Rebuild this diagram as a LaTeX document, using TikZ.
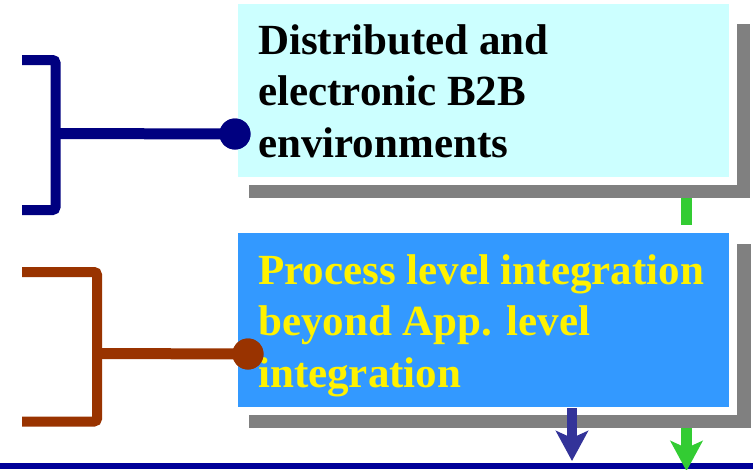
\documentclass[tikz,border=0pt]{standalone}
\usepackage{fontspec}
\setmainfont{Liberation Serif}
\usetikzlibrary{arrows.meta}
\definecolor{skycyan}{HTML}{CCFFFF}
\definecolor{procblue}{HTML}{3399FF}
\definecolor{shadowgray}{HTML}{808080}
\definecolor{navyline}{HTML}{000080}
\definecolor{rust}{HTML}{993300}
\definecolor{arrowblue}{HTML}{333399}
\definecolor{arrowgreen}{HTML}{33CC33}
\definecolor{baseblue}{HTML}{000099}
\tikzset{
  panel/.style={rectangle, inner sep=0pt, outer sep=0pt, draw=white, line width=8pt},
  shadowbox/.style={rectangle, inner sep=0pt, outer sep=0pt, fill=shadowgray},
  paneltext/.style={anchor=base west, inner sep=0pt, align=left,
    font=\fontsize{43}{51.5}\selectfont\bfseries},
  bracketline/.style={line width=10pt, rounded corners=3pt},
  pin/.style={circle, inner sep=0pt, minimum size=31pt},
  flowarrow/.style={line width=#1, -{Stealth[width=32pt, length=30pt, inset=7pt]}},
}
\begin{document}
\begin{tikzpicture}[x=1pt, y=-1pt]
  \useasboundingbox (0,0) rectangle (753,469);

  % drop shadows behind the two panels
  \node[shadowbox, minimum width=501pt, minimum height=174pt] (topshadow) at (499.5,111) {};
  \node[shadowbox, minimum width=502pt, minimum height=184pt] (botshadow) at (500,336) {};

  % green link between the panels
  \coordinate (glinktop) at (686.5,198);
  \coordinate (glinkbot) at (686.5,230);
  \draw[arrowgreen, line width=11pt] (glinktop) -- (glinkbot);

  % panels
  \node[panel, fill=skycyan, minimum width=499pt, minimum height=181pt] (toppanel) at (483.5,90.5) {};
  \node[panel, fill=procblue, minimum width=499pt, minimum height=182pt] (botpanel) at (483.5,320) {};

  % panel captions (anchored at the baseline of the last line)
  \node[paneltext, text=black] (toptext) at (258,157)
    {Distributed and\\electronic B2B\\environments};
  \node[paneltext, text=yellow] (bottext) at (258,387)
    {Process level integration\\beyond App. level\\integration};

  % left brackets with their pins
  \node[pin, fill=navyline] (toppin) at (235,134) {};
  \coordinate (tbA) at (22,60);
  \coordinate (tbB) at (55.5,60);
  \coordinate (tbC) at (55.5,210);
  \coordinate (tbD) at (22,210);
  \coordinate (tbM) at (55.5,133.5);
  \draw[bracketline, navyline] (tbA) -- (tbB) -- (tbC) -- (tbD);
  \draw[navyline, line width=11pt] (tbM) -- (toppin.center);
  \node[pin, fill=navyline] at (toppin) {};

  \node[pin, fill=rust] (botpin) at (248,354) {};
  \coordinate (bbA) at (22,272);
  \coordinate (bbB) at (97,272);
  \coordinate (bbC) at (97,421.5);
  \coordinate (bbD) at (22,421.5);
  \coordinate (bbM) at (97,353.5);
  \draw[bracketline, rust] (bbA) -- (bbB) -- (bbC) -- (bbD);
  \draw[rust, line width=11pt] (bbM) -- (botpin.center);
  \node[pin, fill=rust] at (botpin) {};

  % base line
  \coordinate (baseL) at (0,466);
  \coordinate (baseR) at (753,466);
  \draw[baseblue, line width=6pt] (baseL) -- (baseR);

  % outgoing arrows
  \coordinate (bluestart) at (572,408);
  \coordinate (blueend) at (572,461);
  \draw[flowarrow=10pt, arrowblue] (bluestart) -- (blueend);
  \coordinate (greenstart) at (686.5,428);
  \coordinate (greenend) at (686.5,471);
  \draw[flowarrow=11pt, arrowgreen] (greenstart) -- (greenend);
\end{tikzpicture}
\end{document}
